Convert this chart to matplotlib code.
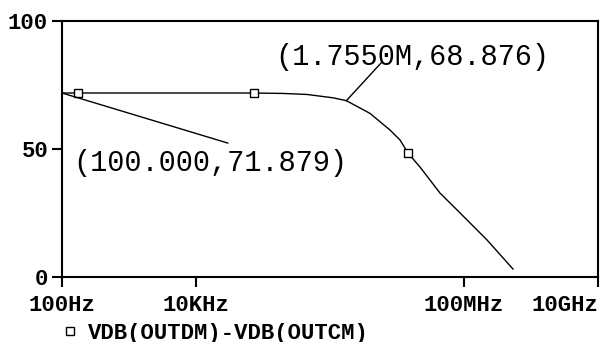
import matplotlib
matplotlib.use("Agg")
import matplotlib.pyplot as plt
from matplotlib.lines import Line2D

# --- AC-Analyse: VDB(OUTDM)-VDB(OUTCM) ---
freq = [100, 173, 1e3, 1e4, 7.35e4, 2e5, 4.54e5, 1.11e6, 1.755e6, 3.96e6,
        7.87e6, 1.11e7, 1.46e7, 2.2e7, 4.38e7, 7.87e7, 2.2e8, 5.39e8]
vdb = [71.879, 71.879, 71.879, 71.878, 71.87, 71.7, 71.3, 70.0, 68.876, 63.9,
       57.4, 53.5, 48.4, 43.0, 32.8, 26.2, 14.5, 3.1]
marker_idx = [1, 4, 12]

x_ticks = [1e2, 1e4, 1e8, 1e10]
x_labels = ["100Hz", "10KHz", "100MHz", "10GHz"]
y_ticks = [0, 50, 100]
y_labels = ["0", "50", "100"]

trace_name = "VDB(OUTDM)-VDB(OUTCM)"

# Cursor-Marken: (Punkt, Ende Hilfslinie, Textposition, Text)
cursors = [
    ((100, 71.879), (3e4, 52.3), (146, 44.5), "(100.000,71.879)"),
    ((1.755e6, 68.876), (5.97e6, 84.0), (1.51e5, 85.9), "(1.7550M,68.876)"),
]

tick_font = dict(family="Liberation Mono", weight="bold", size=16)
cursor_font = dict(family="Liberation Mono", size=20.6)

fig = plt.figure(figsize=(6.01, 3.42), dpi=100)
ax = fig.add_axes([62 / 601, 65 / 342, 536 / 601, 256 / 342])

ax.plot(freq, vdb, color="black", linewidth=1,
        marker="s", markevery=marker_idx, markersize=6,
        markerfacecolor="white", markeredgecolor="black", markeredgewidth=1)

for (pt, end, txt_pos, txt) in cursors:
    ax.annotate("", xy=pt, xytext=end,
                arrowprops=dict(arrowstyle="-", color="black", lw=1,
                                shrinkA=0, shrinkB=0))
    ax.text(txt_pos[0], txt_pos[1], txt, ha="left", va="center",
            color="black", **cursor_font)

ax.set_xscale("log")
ax.set_xlim(1e2, 1e10)
ax.set_ylim(0, 100)
ax.set_xticks(x_ticks)
ax.set_xticklabels(x_labels, fontdict=tick_font)
ax.minorticks_off()
ax.set_yticks(y_ticks)
ax.set_yticklabels(y_labels, fontdict=tick_font)
ax.get_xticklabels()[-1].set_horizontalalignment("right")

ax.tick_params(axis="x", direction="out", length=7, width=1.5, pad=6)
ax.tick_params(axis="y", direction="out", length=7, width=1.5, pad=3)
for sp in ax.spines.values():
    sp.set_linewidth(1.5)

handle = Line2D([], [], linestyle="none", marker="s", markersize=6,
                markerfacecolor="white", markeredgecolor="black", markeredgewidth=1)
fig.legend([handle], [trace_name], loc="center left",
           bbox_to_anchor=(61 / 601, 9 / 342), frameon=False,
           prop=dict(family="Liberation Mono", weight="bold", size=16),
           handlelength=0.8, handletextpad=0.41, borderpad=0, borderaxespad=0)

fig.savefig("out.png", dpi=100)
